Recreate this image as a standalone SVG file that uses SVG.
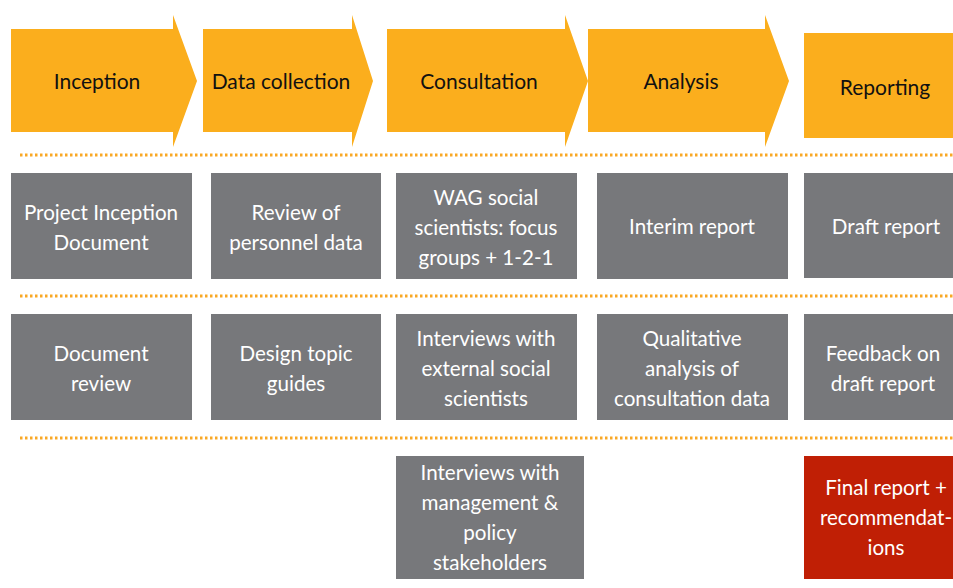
<svg xmlns="http://www.w3.org/2000/svg" width="953" height="588" viewBox="0 0 953 588">
  <style>
    .phase { fill: #FBAE1D; }
    .task { fill: #77787B; }
    .final { fill: #C01F05; }
    .hd { font-family: Lato, "Liberation Sans", sans-serif; font-size: 21px; fill: #111; text-anchor: middle; dominant-baseline: central; }
    .tx { font-family: Lato, "Liberation Sans", sans-serif; font-size: 20.6px; fill: #fff; text-anchor: middle; dominant-baseline: central; }
    .sep { stroke: #F9A825; stroke-width: 3; stroke-dasharray: 2.5 2.5; fill: none; }
  </style>
  <rect width="953" height="588" fill="#fff"/>

  <!-- phase chevrons -->
  <g id="phase-inception">
    <polygon class="phase" points="11,29 173,29 173,15 197,81 173,147 173,132 11,132"/>
    <text class="hd" x="97" y="80">Inception</text>
  </g>
  <g id="phase-data-collection">
    <polygon class="phase" points="203,29 352,29 352,15 373,81 352,147 352,132 203,132"/>
    <text class="hd" x="281" y="80">Data collection</text>
  </g>
  <g id="phase-consultation">
    <polygon class="phase" points="387,29 565,29 565,15 588,81 565,147 565,132 387,132"/>
    <text class="hd" x="479" y="80">Consultation</text>
  </g>
  <g id="phase-analysis">
    <polygon class="phase" points="588,29 765,29 765,15 789,81 765,147 765,132 588,132"/>
    <text class="hd" x="681" y="80">Analysis</text>
  </g>
  <g id="phase-reporting">
    <rect class="phase" x="804" y="33" width="149" height="105"/>
    <text class="hd" x="885" y="86">Reporting</text>
  </g>

  <!-- dotted row separators -->
  <g id="separators">
    <line class="sep" x1="20" y1="155" x2="953" y2="155"/>
    <line class="sep" x1="20" y1="296" x2="953" y2="296"/>
    <line class="sep" x1="20" y1="438" x2="953" y2="438"/>
  </g>

  <!-- row 1 -->
  <g id="task-project-inception">
    <rect class="task" x="11" y="173" width="181" height="106"/>
    <text class="tx" x="101" y="212">Project Inception</text>
    <text class="tx" x="101" y="242">Document</text>
  </g>
  <g id="task-review-personnel">
    <rect class="task" x="211" y="173" width="170" height="106"/>
    <text class="tx" x="296" y="212">Review of</text>
    <text class="tx" x="296" y="242">personnel data</text>
  </g>
  <g id="task-wag-scientists">
    <rect class="task" x="396" y="173" width="181" height="106"/>
    <text class="tx" x="486" y="197">WAG social</text>
    <text class="tx" x="486" y="227">scientists: focus</text>
    <text class="tx" x="486" y="257">groups + 1-2-1</text>
  </g>
  <g id="task-interim-report">
    <rect class="task" x="597" y="173" width="191" height="106"/>
    <text class="tx" x="692" y="226">Interim report</text>
  </g>
  <g id="task-draft-report">
    <rect class="task" x="804" y="173" width="149" height="105"/>
    <text class="tx" x="886" y="226">Draft report</text>
  </g>

  <!-- row 2 -->
  <g id="task-document-review">
    <rect class="task" x="11" y="314" width="181" height="106"/>
    <text class="tx" x="101" y="353">Document</text>
    <text class="tx" x="101" y="383">review</text>
  </g>
  <g id="task-topic-guides">
    <rect class="task" x="211" y="314" width="170" height="106"/>
    <text class="tx" x="296" y="353">Design topic</text>
    <text class="tx" x="296" y="383">guides</text>
  </g>
  <g id="task-external-interviews">
    <rect class="task" x="396" y="314" width="181" height="106"/>
    <text class="tx" x="486" y="338">Interviews with</text>
    <text class="tx" x="486" y="368">external social</text>
    <text class="tx" x="486" y="398">scientists</text>
  </g>
  <g id="task-qualitative-analysis">
    <rect class="task" x="597" y="314" width="191" height="106"/>
    <text class="tx" x="692" y="338">Qualitative</text>
    <text class="tx" x="692" y="368">analysis of</text>
    <text class="tx" x="692" y="398">consultation data</text>
  </g>
  <g id="task-feedback">
    <rect class="task" x="804" y="314" width="149" height="106"/>
    <text class="tx" x="883" y="353">Feedback on</text>
    <text class="tx" x="883" y="383">draft report</text>
  </g>

  <!-- row 3 -->
  <g id="task-management-interviews">
    <rect class="task" x="396" y="456" width="188" height="123"/>
    <text class="tx" x="490" y="472">Interviews with</text>
    <text class="tx" x="490" y="502">management &amp;</text>
    <text class="tx" x="490" y="532">policy</text>
    <text class="tx" x="490" y="562">stakeholders</text>
  </g>
  <g id="task-final-report">
    <rect class="final" x="804" y="456" width="149" height="123"/>
    <text class="tx" x="886" y="487">Final report +</text>
    <text class="tx" x="886" y="517">recommendat-</text>
    <text class="tx" x="886" y="547">ions</text>
  </g>
</svg>
